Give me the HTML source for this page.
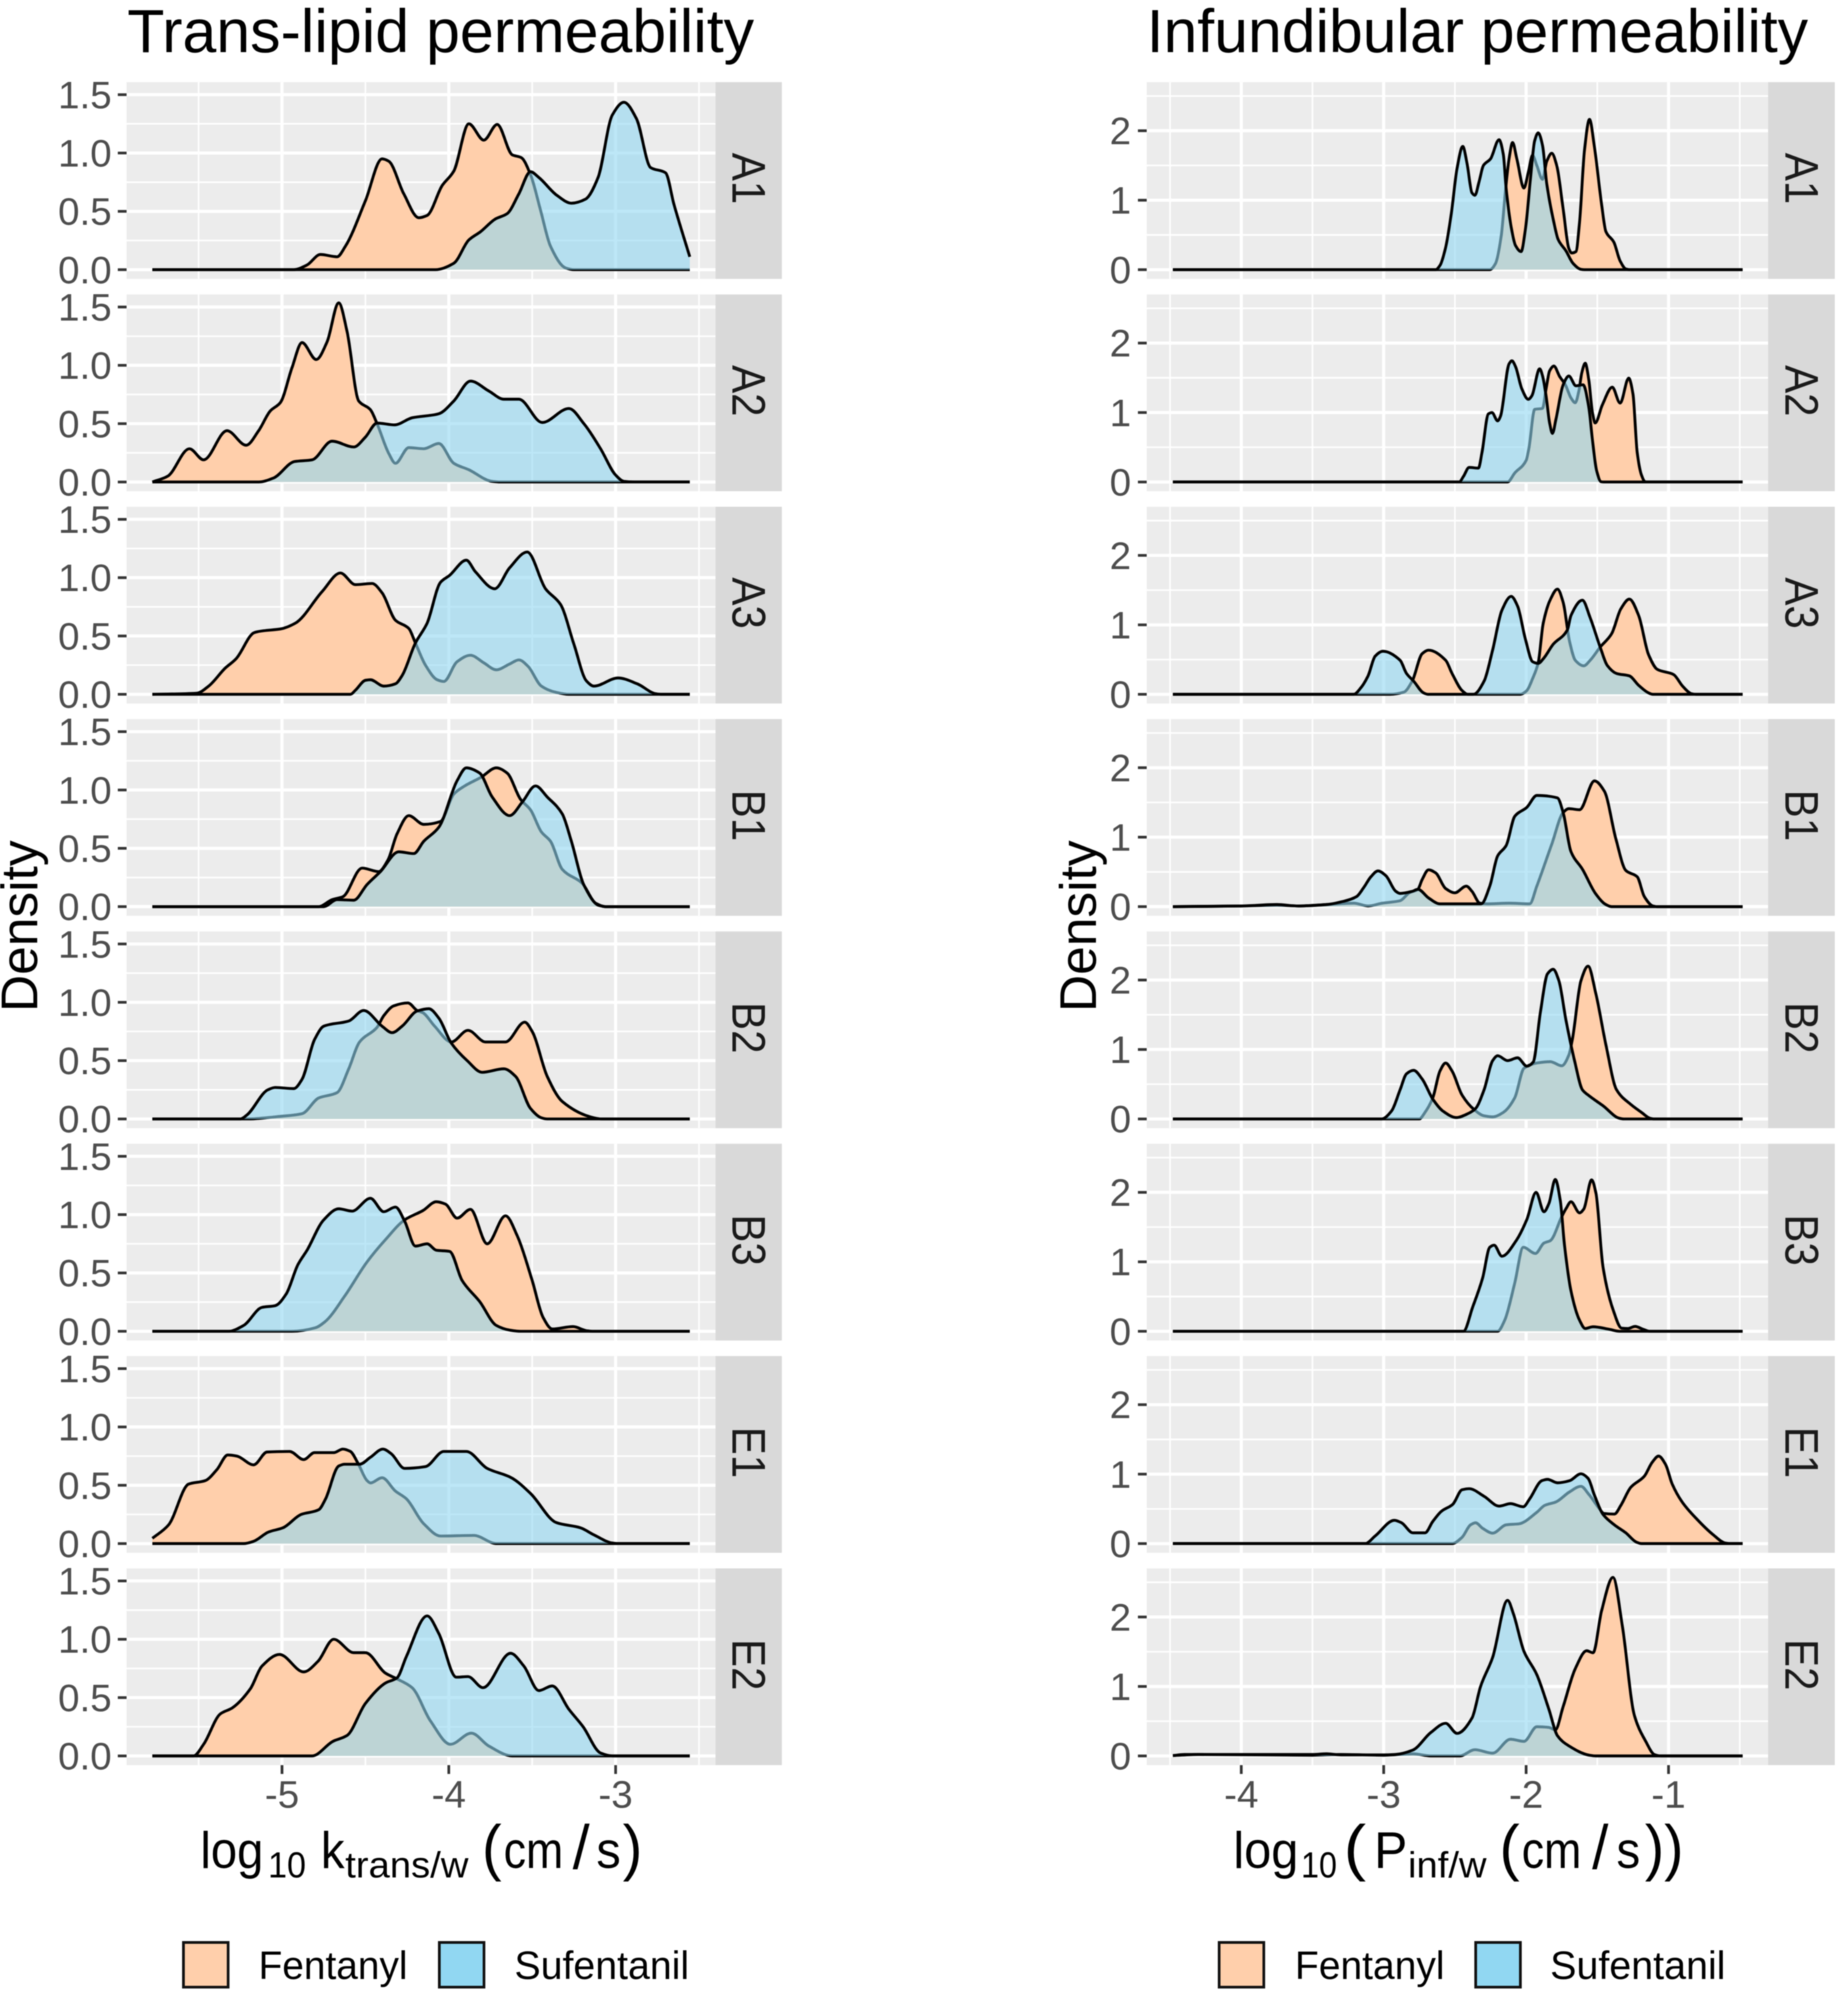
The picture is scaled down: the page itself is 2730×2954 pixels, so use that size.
<!DOCTYPE html>
<html lang="en">
<head>
<meta charset="utf-8">
<title>Trans-lipid and infundibular permeability density plots</title>
<style>
html,body{margin:0;padding:0;background:#fff;width:2730px;height:2954px;overflow:hidden}
svg{display:block;filter:blur(.9px)}
text{font-family:"Liberation Sans",Arial,sans-serif}
</style>
</head>
<body>
<svg id="chart" xmlns="http://www.w3.org/2000/svg" width="2730" height="2954" viewBox="0 0 2730 2954">
<rect x="0" y="0" width="2730" height="2954" fill="#fff"/>
<g id="trans-panels"></g>
<g id="inf-panels"></g>

<text x="188" y="77" font-size="90" textLength="926" lengthAdjust="spacingAndGlyphs" fill="#000">Trans-lipid permeability</text>
<text x="1694" y="77" font-size="90" textLength="977" lengthAdjust="spacingAndGlyphs" fill="#000">Infundibular permeability</text>

<text transform="translate(55,1368) rotate(-90)" text-anchor="middle" font-size="76" fill="#000">Density</text>
<text transform="translate(1619,1368) rotate(-90)" text-anchor="middle" font-size="76" fill="#000">Density</text>

<g fill="#000">
<text x="296" y="2759" font-size="76" textLength="93" lengthAdjust="spacingAndGlyphs">log</text>
<text x="396" y="2773" font-size="54" textLength="56" lengthAdjust="spacingAndGlyphs">10</text>
<text x="474" y="2759" font-size="76" textLength="35" lengthAdjust="spacingAndGlyphs">k</text>
<text x="510" y="2773" font-size="54" textLength="182" lengthAdjust="spacingAndGlyphs">trans/w</text>
<text x="712" y="2760" font-size="92" textLength="29" lengthAdjust="spacingAndGlyphs">(</text>
<text x="744" y="2759" font-size="76" textLength="88" lengthAdjust="spacingAndGlyphs">cm</text>
<text x="846" y="2760" font-size="92" textLength="25" lengthAdjust="spacingAndGlyphs">/</text>
<text x="881" y="2759" font-size="76" textLength="36" lengthAdjust="spacingAndGlyphs">s</text>
<text x="920" y="2760" font-size="92" textLength="29" lengthAdjust="spacingAndGlyphs">)</text>
</g>

<g fill="#000">
<text x="1822" y="2759" font-size="76" textLength="96" lengthAdjust="spacingAndGlyphs">log</text>
<text x="1922" y="2773" font-size="54" textLength="53" lengthAdjust="spacingAndGlyphs">10</text>
<text x="1985" y="2760" font-size="92" textLength="33" lengthAdjust="spacingAndGlyphs">(</text>
<text x="2030" y="2759" font-size="76" textLength="49" lengthAdjust="spacingAndGlyphs">P</text>
<text x="2080" y="2773" font-size="54" textLength="116" lengthAdjust="spacingAndGlyphs">inf/w</text>
<text x="2215" y="2760" font-size="92" textLength="30" lengthAdjust="spacingAndGlyphs">(</text>
<text x="2248" y="2759" font-size="76" textLength="88" lengthAdjust="spacingAndGlyphs">cm</text>
<text x="2352" y="2760" font-size="92" textLength="24" lengthAdjust="spacingAndGlyphs">/</text>
<text x="2388" y="2759" font-size="76" textLength="35" lengthAdjust="spacingAndGlyphs">s</text>
<text x="2430" y="2760" font-size="92" textLength="57" lengthAdjust="spacingAndGlyphs">))</text>
</g>

<g>
<g>
<rect x="271" y="2869" width="66" height="66" fill="#FFCFAB" stroke="#111" stroke-width="4"/>
<text x="382" y="2923" font-size="58" textLength="220" lengthAdjust="spacingAndGlyphs" fill="#000">Fentanyl</text>
</g>
<g>
<rect x="649" y="2869" width="66" height="66" fill="#91D7F2" stroke="#111" stroke-width="4"/>
<text x="760" y="2923" font-size="58" textLength="258" lengthAdjust="spacingAndGlyphs" fill="#000">Sufentanil</text>
</g>
</g>

<g>
<g>
<rect x="1801" y="2869" width="66" height="66" fill="#FFCFAB" stroke="#111" stroke-width="4"/>
<text x="1913" y="2923" font-size="58" textLength="221" lengthAdjust="spacingAndGlyphs" fill="#000">Fentanyl</text>
</g>
<g>
<rect x="2180" y="2869" width="66" height="66" fill="#91D7F2" stroke="#111" stroke-width="4"/>
<text x="2290" y="2923" font-size="58" textLength="259" lengthAdjust="spacingAndGlyphs" fill="#000">Sufentanil</text>
</g>
</g>
</svg>

<script>
// ---- categories and tick labels ----
const facetLabels = ['A1','A2','A3','B1','B2','B3','E1','E2'];
const transXTicks = ['-5','-4','-3'];
const transXMinorTicks = [-5.5,-4.5,-3.5,-2.5];
const transYTicks = ['0.0','0.5','1.0','1.5'];
const transYMinorTicks = [0.25,0.75,1.25];
const infXTicks = ['-4','-3','-2','-1'];
const infXMinorTicks = [-4.5,-3.5,-2.5,-1.5,-0.5];
const infYTicks = ['0','1','2'];
const infYMinorTicks = [0.5,1.5,2.5];

// ---- density series: [log10 value, density] ----
const transA1Fentanyl = [[-5.777,0],[-4.93,0],[-4.85,.04],[-4.77,.13],[-4.67,.11],[-4.62,.2],[-4.5,.59],[-4.4,.95],[-4.36,.93],[-4.27,.65],[-4.18,.445],[-4.13,.465],[-4.04,.72],[-3.97,.845],[-3.88,1.25],[-3.79,1.11],[-3.71,1.245],[-3.62,.985],[-3.565,.96],[-3.51,.815],[-3.45,.51],[-3.39,.2],[-3.3,.015],[-3.25,0],[-2.555,0]];
const transA1Sufentanil = [[-5.777,0],[-4.08,0],[-3.97,.055],[-3.88,.255],[-3.81,.325],[-3.72,.435],[-3.65,.48],[-3.58,.65],[-3.51,.84],[-3.46,.79],[-3.35,.635],[-3.265,.57],[-3.18,.605],[-3.105,.79],[-3.02,1.325],[-2.95,1.435],[-2.875,1.295],[-2.79,.875],[-2.7,.83],[-2.65,.56],[-2.555,.11]];
const transA2Fentanyl = [[-5.777,0],[-5.685,.05],[-5.555,.285],[-5.47,.19],[-5.33,.44],[-5.215,.315],[-5.14,.44],[-5.07,.61],[-5.01,.68],[-4.94,.98],[-4.88,1.195],[-4.795,1.05],[-4.73,1.2],[-4.66,1.535],[-4.61,1.29],[-4.54,.695],[-4.47,.62],[-4.43,.5],[-4.36,.245],[-4.32,.16],[-4.24,.295],[-4.15,.285],[-4.06,.33],[-3.97,.16],[-3.88,.105],[-3.74,.005],[-3.69,0],[-2.555,0]];
const transA2Sufentanil = [[-5.777,0],[-5.14,0],[-5.05,.035],[-4.925,.175],[-4.82,.19],[-4.7,.35],[-4.57,.3],[-4.5,.385],[-4.43,.505],[-4.325,.49],[-4.22,.55],[-4.06,.585],[-3.97,.695],[-3.87,.865],[-3.76,.78],[-3.67,.71],[-3.58,.71],[-3.44,.51],[-3.28,.63],[-3.19,.5],[-3.09,.285],[-3,.06],[-2.95,.005],[-2.89,0],[-2.555,0]];
const transA3Fentanyl = [[-5.777,0],[-5.51,.01],[-5.44,.07],[-5.34,.225],[-5.275,.305],[-5.165,.53],[-5.11,.545],[-5.01,.56],[-4.92,.61],[-4.76,.88],[-4.65,1.04],[-4.56,.94],[-4.46,.95],[-4.4,.87],[-4.32,.635],[-4.24,.565],[-4.2,.44],[-4.14,.25],[-4.07,.125],[-4.03,.11],[-3.95,.28],[-3.87,.335],[-3.79,.27],[-3.715,.21],[-3.635,.26],[-3.58,.295],[-3.525,.24],[-3.445,.07],[-3.365,.02],[-3.28,0],[-2.555,0]];
const transA3Sufentanil = [[-5.777,0],[-4.59,0],[-4.56,.035],[-4.5,.12],[-4.47,.125],[-4.39,.07],[-4.32,.09],[-4.28,.16],[-4.2,.44],[-4.13,.61],[-4.05,.96],[-3.995,1.02],[-3.895,1.15],[-3.84,1.05],[-3.725,.905],[-3.635,1.085],[-3.53,1.22],[-3.42,.905],[-3.33,.77],[-3.25,.43],[-3.175,.115],[-3.13,.07],[-2.985,.14],[-2.87,.09],[-2.76,.005],[-2.73,0],[-2.555,0]];
const transB1Fentanyl = [[-5.777,0],[-4.78,0],[-4.7,.06],[-4.635,.085],[-4.52,.33],[-4.42,.3],[-4.365,.4],[-4.31,.625],[-4.24,.78],[-4.15,.705],[-4.05,.73],[-3.97,.965],[-3.91,1.03],[-3.805,1.11],[-3.715,1.19],[-3.65,1.145],[-3.57,.92],[-3.51,.83],[-3.445,.64],[-3.39,.56],[-3.32,.32],[-3.2,.2],[-3.12,.03],[-3.06,0],[-2.555,0]];
const transB1Sufentanil = [[-5.777,0],[-4.75,0],[-4.67,.06],[-4.57,.055],[-4.49,.19],[-4.41,.3],[-4.3,.47],[-4.21,.455],[-4.15,.56],[-4.06,.68],[-3.95,1.08],[-3.895,1.19],[-3.815,1.145],[-3.74,.94],[-3.635,.78],[-3.56,.895],[-3.48,1.035],[-3.41,.94],[-3.32,.795],[-3.265,.56],[-3.19,.185],[-3.1,.01],[-3.06,0],[-2.555,0]];
const transB2Fentanyl = [[-5.777,0],[-5.2,0],[-5.03,.02],[-4.88,.045],[-4.78,.18],[-4.67,.225],[-4.6,.43],[-4.535,.66],[-4.43,.785],[-4.39,.885],[-4.33,.97],[-4.245,.995],[-4.19,.93],[-4.155,.91],[-4.085,.795],[-3.985,.66],[-3.885,.76],[-3.78,.66],[-3.66,.66],[-3.545,.83],[-3.5,.75],[-3.41,.365],[-3.32,.15],[-3.13,.01],[-3.085,0],[-2.555,0]];
const transB2Sufentanil = [[-5.777,0],[-5.25,0],[-5.21,.035],[-5.085,.25],[-5.04,.27],[-4.93,.26],[-4.88,.34],[-4.805,.68],[-4.75,.795],[-4.6,.84],[-4.51,.93],[-4.4,.795],[-4.34,.74],[-4.28,.795],[-4.19,.925],[-4.12,.945],[-4.06,.865],[-3.985,.65],[-3.89,.5],[-3.8,.4],[-3.67,.43],[-3.6,.365],[-3.51,.09],[-3.445,.01],[-3.41,0],[-2.555,0]];
const transB3Fentanyl = [[-5.777,0],[-4.94,0],[-4.8,.03],[-4.74,.085],[-4.625,.3],[-4.49,.595],[-4.38,.785],[-4.265,.955],[-4.155,1.035],[-4.075,1.11],[-4.02,1.09],[-3.95,.97],[-3.87,1.045],[-3.77,.75],[-3.66,.99],[-3.59,.82],[-3.5,.435],[-3.435,.12],[-3.38,.02],[-3.255,.04],[-3.175,.005],[-3.14,0],[-2.555,0]];
const transB3Sufentanil = [[-5.777,0],[-5.32,0],[-5.23,.05],[-5.12,.205],[-5.04,.22],[-4.975,.32],[-4.905,.57],[-4.85,.695],[-4.75,.955],[-4.66,1.05],[-4.58,1.03],[-4.47,1.14],[-4.39,1.025],[-4.32,1.065],[-4.265,.945],[-4.2,.73],[-4.13,.75],[-4.075,.695],[-3.995,.685],[-3.92,.435],[-3.815,.255],[-3.715,.05],[-3.635,.01],[-3.57,0],[-2.555,0]];
const transE1Fentanyl = [[-5.777,.045],[-5.68,.16],[-5.56,.51],[-5.46,.54],[-5.39,.635],[-5.325,.76],[-5.27,.75],[-5.17,.675],[-5.09,.785],[-4.955,.79],[-4.87,.72],[-4.805,.78],[-4.69,.78],[-4.635,.81],[-4.59,.79],[-4.545,.69],[-4.49,.54],[-4.47,.52],[-4.4,.565],[-4.32,.45],[-4.255,.385],[-4.15,.17],[-4.05,.065],[-3.85,.07],[-3.715,0],[-2.555,0]];
const transE1Sufentanil = [[-5.777,0],[-5.23,0],[-5.17,.02],[-5.08,.1],[-4.995,.135],[-4.885,.25],[-4.78,.29],[-4.74,.38],[-4.66,.665],[-4.625,.68],[-4.535,.68],[-4.47,.74],[-4.395,.81],[-4.345,.77],[-4.265,.645],[-4.14,.66],[-4.03,.79],[-3.895,.79],[-3.77,.645],[-3.625,.565],[-3.51,.43],[-3.355,.18],[-3.21,.135],[-3.13,.075],[-3.02,.005],[-2.985,0],[-2.555,0]];
const transE2Fentanyl = [[-5.777,0],[-5.53,0],[-5.47,.1],[-5.37,.36],[-5.3,.41],[-5.19,.575],[-5.12,.77],[-5.015,.87],[-4.87,.72],[-4.785,.81],[-4.69,1],[-4.57,.885],[-4.5,.885],[-4.38,.71],[-4.31,.66],[-4.22,.585],[-4.11,.3],[-3.99,.1],[-3.865,.195],[-3.76,.085],[-3.62,0],[-2.555,0]];
const transE2Sufentanil = [[-5.777,0],[-4.82,0],[-4.695,.125],[-4.61,.175],[-4.5,.45],[-4.38,.625],[-4.31,.67],[-4.255,.85],[-4.13,1.2],[-4.06,1.05],[-3.955,.675],[-3.885,.68],[-3.795,.585],[-3.63,.88],[-3.55,.77],[-3.46,.56],[-3.38,.6],[-3.28,.4],[-3.195,.25],[-3.09,.025],[-3.02,0],[-2.555,0]];

const infA1Fentanyl = [[-4.48,0],[-2.255,0],[-2.215,.09],[-2.175,.485],[-2.145,1.135],[-2.12,1.595],[-2.095,1.83],[-2.065,1.595],[-2.015,1.175],[-1.985,1.4],[-1.955,1.645],[-1.925,1.5],[-1.885,1.3],[-1.855,1.56],[-1.82,1.675],[-1.785,1.5],[-1.74,.875],[-1.7,.305],[-1.68,.24],[-1.65,.26],[-1.625,.68],[-1.59,1.725],[-1.555,2.165],[-1.52,1.76],[-1.47,.94],[-1.44,.55],[-1.385,.4],[-1.34,.125],[-1.3,.01],[-1.275,0],[-.48,0]];
const infA1Sufentanil = [[-4.48,0],[-2.635,0],[-2.605,.06],[-2.565,.32],[-2.525,.81],[-2.485,1.46],[-2.445,1.775],[-2.415,1.53],[-2.38,1.105],[-2.36,1.07],[-2.33,1.27],[-2.3,1.5],[-2.25,1.595],[-2.19,1.87],[-2.16,1.66],[-2.14,1.17],[-2.105,.615],[-2.075,.35],[-2.035,.26],[-2.005,.58],[-1.97,1.3],[-1.94,1.855],[-1.915,1.97],[-1.885,1.79],[-1.855,1.235],[-1.805,.68],[-1.775,.435],[-1.72,.27],[-1.67,.09],[-1.615,.005],[-1.59,0],[-.48,0]];
const infA2Fentanyl = [[-4.48,0],[-2.13,0],[-2.08,.13],[-2,.31],[-1.98,.49],[-1.94,1.045],[-1.885,1.06],[-1.86,1.34],[-1.835,1.6],[-1.805,1.67],[-1.765,1.52],[-1.725,1.4],[-1.685,1.21],[-1.655,1.14],[-1.63,1.305],[-1.61,1.565],[-1.585,1.71],[-1.56,1.47],[-1.535,1.01],[-1.515,.85],[-1.465,1.11],[-1.395,1.365],[-1.34,1.135],[-1.28,1.495],[-1.25,1.27],[-1.22,.425],[-1.19,.1],[-1.165,.005],[-1.15,0],[-.48,0]];
const infA2Sufentanil = [[-4.48,0],[-2.47,0],[-2.44,.08],[-2.4,.21],[-2.335,.2],[-2.31,.425],[-2.265,.98],[-2.24,1],[-2.2,.88],[-2.18,.945],[-2.12,1.7],[-2.1,1.745],[-2.075,1.665],[-2.03,1.34],[-1.985,1.19],[-1.96,1.24],[-1.905,1.63],[-1.885,1.53],[-1.86,1.24],[-1.835,.85],[-1.815,.7],[-1.79,.91],[-1.74,1.4],[-1.7,1.525],[-1.65,1.385],[-1.6,1.4],[-1.56,1.075],[-1.535,.62],[-1.505,.165],[-1.475,.005],[-1.455,0],[-.48,0]];
const infA3Fentanyl = [[-4.48,0],[-2.955,0],[-2.86,.03],[-2.8,.19],[-2.73,.585],[-2.685,.635],[-2.565,.49],[-2.52,.3],[-2.45,.055],[-2.41,0],[-2.04,0],[-1.995,.055],[-1.955,.225],[-1.915,.455],[-1.88,1.02],[-1.83,1.365],[-1.78,1.515],[-1.74,1.325],[-1.695,.76],[-1.655,.49],[-1.595,.41],[-1.55,.49],[-1.48,.68],[-1.4,.87],[-1.335,1.23],[-1.275,1.37],[-1.21,1.135],[-1.14,.57],[-1.08,.36],[-.965,.285],[-.9,.115],[-.84,.01],[-.81,0],[-.48,0]];
const infA3Sufentanil = [[-4.48,0],[-3.21,0],[-3.16,.095],[-3.11,.265],[-3.06,.55],[-3.005,.62],[-2.885,.49],[-2.84,.3],[-2.79,.19],[-2.72,.02],[-2.69,0],[-2.37,0],[-2.295,.19],[-2.235,.64],[-2.17,1.21],[-2.105,1.41],[-2.06,1.27],[-2.005,.795],[-1.955,.47],[-1.915,.445],[-1.88,.51],[-1.81,.72],[-1.71,.93],[-1.685,1.135],[-1.605,1.355],[-1.55,1.1],[-1.48,.68],[-1.43,.415],[-1.365,.3],[-1.275,.265],[-1.21,.13],[-1.14,.02],[-1.11,0],[-.48,0]];
const infB1Fentanyl = [[-4.48,0],[-4,.01],[-3.75,.02],[-3.6,.01],[-3.4,.03],[-3.21,.05],[-3.11,.01],[-3.01,.05],[-2.885,.085],[-2.82,.2],[-2.76,.25],[-2.73,.39],[-2.685,.53],[-2.635,.485],[-2.565,.26],[-2.5,.2],[-2.42,.295],[-2.38,.22],[-2.325,.05],[-2.275,.04],[-2.12,.05],[-1.975,.04],[-1.925,.295],[-1.82,.9],[-1.74,1.355],[-1.7,1.41],[-1.625,1.395],[-1.52,1.81],[-1.45,1.66],[-1.37,.975],[-1.3,.52],[-1.22,.43],[-1.17,.145],[-1.11,.01],[-1.08,0],[-.48,0]];
const infB1Sufentanil = [[-4.48,0],[-4,.01],[-3.75,.03],[-3.6,.01],[-3.4,.03],[-3.285,.075],[-3.19,.145],[-3.14,.275],[-3.09,.43],[-3.04,.515],[-2.985,.445],[-2.915,.22],[-2.885,.19],[-2.8,.22],[-2.76,.25],[-2.685,.125],[-2.605,.04],[-2.49,.04],[-2.355,.04],[-2.315,.04],[-2.255,.295],[-2.2,.73],[-2.14,.88],[-2.08,1.3],[-1.995,1.43],[-1.925,1.6],[-1.78,1.565],[-1.74,1.355],[-1.685,.79],[-1.605,.54],[-1.51,.18],[-1.44,.03],[-1.4,0],[-.48,0]];
const infB2Fentanyl = [[-4.48,0],[-2.75,0],[-2.71,.095],[-2.655,.305],[-2.605,.69],[-2.565,.805],[-2.52,.69],[-2.45,.345],[-2.365,.135],[-2.295,.045],[-2.235,.03],[-2.16,.095],[-2.08,.305],[-2.015,.73],[-1.925,.805],[-1.83,.825],[-1.75,.765],[-1.7,.92],[-1.675,1.15],[-1.615,1.99],[-1.565,2.2],[-1.51,1.8],[-1.44,1.07],[-1.365,.42],[-1.265,.21],[-1.19,.095],[-1.13,.01],[-1.1,0],[-.48,0]];
const infB2Sufentanil = [[-4.48,0],[-3.015,0],[-2.945,.115],[-2.885,.42],[-2.84,.65],[-2.79,.7],[-2.73,.575],[-2.655,.285],[-2.585,.115],[-2.49,.02],[-2.41,.075],[-2.355,.15],[-2.295,.42],[-2.235,.84],[-2.2,.91],[-2.13,.84],[-2.06,.88],[-1.995,.76],[-1.95,.82],[-1.9,1.53],[-1.85,2.09],[-1.81,2.155],[-1.77,1.99],[-1.72,1.42],[-1.66,.84],[-1.605,.42],[-1.565,.345],[-1.46,.19],[-1.345,.01],[-1.315,0],[-.48,0]];
const infB3Fentanyl = [[-4.48,0],[-2.2,0],[-2.15,.16],[-2.08,.695],[-2.02,1.21],[-1.935,1.12],[-1.875,1.27],[-1.83,1.305],[-1.75,1.65],[-1.72,1.765],[-1.685,1.865],[-1.625,1.705],[-1.595,1.76],[-1.54,2.18],[-1.51,1.99],[-1.46,.925],[-1.39,.315],[-1.33,.045],[-1.285,.04],[-1.235,.07],[-1.18,.03],[-1.13,0],[-.48,0]];
const infB3Sufentanil = [[-4.48,0],[-2.44,0],[-2.375,.35],[-2.305,.77],[-2.255,1.21],[-2.225,1.24],[-2.17,1.08],[-2.07,1.305],[-1.995,1.61],[-1.93,2],[-1.875,1.72],[-1.84,1.84],[-1.795,2.185],[-1.76,1.88],[-1.73,1.23],[-1.685,.58],[-1.625,.16],[-1.585,.04],[-1.53,.065],[-1.42,.03],[-1.345,0],[-.48,0]];
const infE1Fentanyl = [[-4.48,0],[-2.52,0],[-2.45,.09],[-2.39,.27],[-2.355,.3],[-2.305,.22],[-2.235,.15],[-2.14,.27],[-2.05,.285],[-1.925,.45],[-1.87,.55],[-1.79,.6],[-1.695,.745],[-1.615,.825],[-1.56,.71],[-1.49,.515],[-1.455,.435],[-1.38,.425],[-1.335,.55],[-1.265,.81],[-1.17,.97],[-1.115,1.17],[-1.07,1.26],[-1.02,1.135],[-.975,.86],[-.905,.6],[-.8,.35],[-.685,.125],[-.605,.01],[-.57,0],[-.48,0]];
const infE1Sufentanil = [[-4.48,0],[-3.13,0],[-3.06,.11],[-2.925,.335],[-2.875,.3],[-2.795,.155],[-2.71,.155],[-2.655,.32],[-2.595,.465],[-2.515,.565],[-2.45,.775],[-2.4,.79],[-2.295,.68],[-2.19,.54],[-2.11,.575],[-2.02,.53],[-1.975,.645],[-1.89,.905],[-1.85,.925],[-1.78,.875],[-1.695,.905],[-1.615,1.005],[-1.565,.94],[-1.52,.695],[-1.46,.42],[-1.38,.27],[-1.3,.155],[-1.225,.02],[-1.19,0],[-.48,0]];
const infE2Fentanyl = [[-4.48,.005],[-4.3,.02],[-3.5,.01],[-3.3,.02],[-3,.01],[-2.795,.03],[-2.67,0],[-2.465,0],[-2.36,.09],[-2.235,.04],[-2.11,.24],[-2.015,.21],[-1.925,.42],[-1.84,.41],[-1.795,.375],[-1.74,.71],[-1.655,1.255],[-1.575,1.515],[-1.53,1.485],[-1.47,2.09],[-1.39,2.57],[-1.325,1.88],[-1.24,.585],[-1.16,.21],[-1.1,.02],[-1.055,0],[-.48,0]];
const infE2Sufentanil = [[-4.48,.005],[-4.4,.02],[-3.5,.02],[-3.4,.03],[-3.3,.015],[-3,.015],[-2.92,.02],[-2.795,.085],[-2.67,.335],[-2.565,.47],[-2.485,.325],[-2.38,.545],[-2.32,1],[-2.235,1.42],[-2.13,2.24],[-2.09,2.05],[-2.015,1.505],[-1.925,1.17],[-1.84,.67],[-1.78,.29],[-1.7,.145],[-1.555,.01],[-1.51,0],[-.48,0]];

const transFentanyl = [transA1Fentanyl,transA2Fentanyl,transA3Fentanyl,transB1Fentanyl,transB2Fentanyl,transB3Fentanyl,transE1Fentanyl,transE2Fentanyl];
const transSufentanil = [transA1Sufentanil,transA2Sufentanil,transA3Sufentanil,transB1Sufentanil,transB2Sufentanil,transB3Sufentanil,transE1Sufentanil,transE2Sufentanil];
const infFentanyl = [infA1Fentanyl,infA2Fentanyl,infA3Fentanyl,infB1Fentanyl,infB2Fentanyl,infB3Fentanyl,infE1Fentanyl,infE2Fentanyl];
const infSufentanil = [infA1Sufentanil,infA2Sufentanil,infA3Sufentanil,infB1Sufentanil,infB2Sufentanil,infB3Sufentanil,infE1Sufentanil,infE2Sufentanil];

const NS = 'http://www.w3.org/2000/svg';
function make(tag, parent, attrs) {
  const el = document.createElementNS(NS, tag);
  for (const k in attrs) el.setAttribute(k, attrs[k]);
  parent.appendChild(el);
  return el;
}

// monotone cubic path through screen points
function curve(pts) {
  const n = pts.length, d = [], m = [];
  for (let i = 0; i < n - 1; i++) d.push((pts[i+1][1] - pts[i][1]) / (pts[i+1][0] - pts[i][0]));
  m.push(d[0]);
  for (let i = 1; i < n - 1; i++) {
    if (d[i-1] * d[i] <= 0) { m.push(0); continue; }
    const h0 = pts[i][0] - pts[i-1][0], h1 = pts[i+1][0] - pts[i][0];
    m.push(3 * (h0 + h1) / ((2 * h1 + h0) / d[i-1] + (h1 + 2 * h0) / d[i]));
  }
  m.push(d[n-2]);
  let s = 'M' + pts[0][0].toFixed(1) + ' ' + pts[0][1].toFixed(1);
  for (let i = 0; i < n - 1; i++) {
    const h = (pts[i+1][0] - pts[i][0]) / 3;
    s += 'C' + (pts[i][0] + h).toFixed(1) + ' ' + (pts[i][1] + m[i] * h).toFixed(1) + ' ' +
         (pts[i+1][0] - h).toFixed(1) + ' ' + (pts[i+1][1] - m[i+1] * h).toFixed(1) + ' ' +
         pts[i+1][0].toFixed(1) + ' ' + pts[i+1][1].toFixed(1);
  }
  return s;
}

const PANEL_H = 290.6, PITCH = 313.6, TOP0 = 121.3, ZERO = 277;

function drawSeries(g, data, yScale, xScale, zero, fill, opacity, seriesName) {
  const pts = data.map(p => [xScale(p[0]), yScale(p[1])]);
  const line = curve(pts);
  const area = make('path', g, {
    d: line + 'L' + pts[pts.length-1][0].toFixed(1) + ' ' + zero.toFixed(1) + 'L' + pts[0][0].toFixed(1) + ' ' + zero.toFixed(1) + 'Z',
    fill: fill, 'fill-opacity': opacity, stroke: 'none'
  });
  
  
  return make('path', g, { d: line, fill: 'none', stroke: '#000', 'stroke-width': 4.2, 'stroke-linejoin': 'round' });
}

function drawColumn(rootId, prefix, left, right, stripRight, xScale, yUnit, xTicks, xMinor, yTicks, yMinor, tickLabelRight, fent, suf) {
  const root = document.getElementById(rootId);
  facetLabels.forEach((label, i) => {
    const top = TOP0 + i * PITCH, zero = top + ZERO;
    const yScale = v => zero - v * yUnit;
    const g = make('g', root, {});
    
    

    const bg = make('rect', g, { x: left, y: top, width: right - left, height: PANEL_H, fill: '#ECECEC' });
    
    

    const strip = make('rect', g, { x: right, y: top, width: stripRight - right, height: PANEL_H, fill: '#D9D9D9' });
    
    

    yMinor.forEach(v => {
      const l = make('line', g, { x1: left, x2: right, y1: yScale(v), y2: yScale(v), stroke: '#fff', 'stroke-width': 2.4 });
      
      
    });
    xMinor.forEach(v => {
      const l = make('line', g, { x1: xScale(v), x2: xScale(v), y1: top, y2: top + PANEL_H, stroke: '#fff', 'stroke-width': 2.4 });
      
      
    });
    yTicks.forEach(t => {
      const y = yScale(parseFloat(t));
      const l = make('line', g, { x1: left, x2: right, y1: y, y2: y, stroke: '#fff', 'stroke-width': 4.6 });
      
      
      const tick = make('line', g, { x1: left - 13, x2: left, y1: y, y2: y, stroke: '#333', 'stroke-width': 4 });
      
      
      const txt = make('text', g, { x: tickLabelRight, y: y + 20, 'text-anchor': 'end', 'font-size': 57, fill: '#4D4D4D' });
      
      
      txt.textContent = t;
    });
    xTicks.forEach(t => {
      const x = xScale(parseFloat(t));
      const l = make('line', g, { x1: x, x2: x, y1: top, y2: top + PANEL_H, stroke: '#fff', 'stroke-width': 4.6 });
      
      
      if (i === facetLabels.length - 1) {
        const tick = make('line', g, { x1: x, x2: x, y1: top + PANEL_H, y2: top + PANEL_H + 13, stroke: '#333', 'stroke-width': 4 });
        
        
        const txt = make('text', g, { x: x, y: 2670, 'text-anchor': 'middle', 'font-size': 57, fill: '#4D4D4D' });
        
        
        txt.textContent = t;
      }
    });

    const fl = drawSeries(g, fent[i], yScale, xScale, zero, '#FFCFAB', 1, prefix + '-fentanyl-' + label.toLowerCase());
    
    
    const sl = drawSeries(g, suf[i], yScale, xScale, zero, '#91D7F2', 0.6, prefix + '-sufentanil-' + label.toLowerCase());
    
    

    const cx = (right + stripRight) / 2, cy = top + PANEL_H / 2 - 3;
    const st = make('text', g, { transform: 'translate(' + cx + ',' + cy + ') rotate(90)', 'text-anchor': 'middle', y: 24, 'font-size': 70, textLength: 76, lengthAdjust: 'spacingAndGlyphs', fill: '#1A1A1A' });
    
    
    st.textContent = label;
  });
}

drawColumn('trans-panels', 'trans', 187, 1057, 1155, v => 663 + (v + 4) * 246.4, 172.3,
  transXTicks, transXMinorTicks, transYTicks, transYMinorTicks, 165, transFentanyl, transSufentanil);
drawColumn('inf-panels', 'inf', 1694, 2612, 2710.5, v => 2254.5 + (v + 2) * 210.4, 102.6,
  infXTicks, infXMinorTicks, infYTicks, infYMinorTicks, 1671, infFentanyl, infSufentanil);
</script>
</body>
</html>
